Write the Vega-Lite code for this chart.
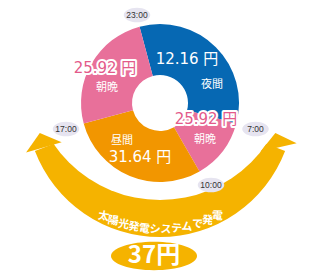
{
  "$schema": "https://vega.github.io/schema/vega-lite/v6.json",
  "autosize": {"type": "none"},
  "width": 320,
  "height": 206,
  "padding": {"left": 0, "top": 0, "right": 0, "bottom": 74},
  "background": "white",
  "config": {"view": {"stroke": null}},
  "datasets": {
    "segments": [
      {"period": "夜間", "start": -1, "end": 7},
      {"period": "朝晩", "start": 7, "end": 10},
      {"period": "昼間", "start": 10, "end": 17},
      {"period": "朝晩", "start": 17, "end": 23}
    ],
    "band": [
      {"start": 7.4, "end": 16.6}
    ],
    "inner": [
      {"x": 0, "y": -32}
    ],
    "arrows": [
      {"x": -117.5, "y": 39.5, "dir": -1},
      {"x": 117.5, "y": 39.5, "dir": 1}
    ],
    "times": [
      {"t": "23:00", "x": -23, "y": -88},
      {"t": "17:00", "x": -94, "y": 26},
      {"t": "7:00", "x": 95.5, "y": 26},
      {"t": "10:00", "x": 51, "y": 82}
    ],
    "labels": [
      {"text": "12.16 円", "x": 27, "y": -44, "kind": "price"},
      {"text": "31.64 円", "x": -20, "y": 54, "kind": "price"},
      {"text": "夜間", "x": 52, "y": -18, "kind": "name"},
      {"text": "朝晩", "x": -53, "y": -15, "kind": "name"},
      {"text": "朝晩", "x": 45, "y": 37, "kind": "name"},
      {"text": "昼間", "x": -38, "y": 38, "kind": "name"},
      {"text": "25.92 円", "x": -55, "y": -35, "kind": "pink"},
      {"text": "25.92 円", "x": 46, "y": 16, "kind": "pink"}
    ],
    "total": [{"text": "37円", "x": -6, "y": 153}],
    "arctext": [
      {"ch": "太", "pos": 13.76},
      {"ch": "陽", "pos": 13.44},
      {"ch": "光", "pos": 13.11},
      {"ch": "発", "pos": 12.79},
      {"ch": "電", "pos": 12.47},
      {"ch": "シ", "pos": 12.15},
      {"ch": "ス", "pos": 11.82},
      {"ch": "テ", "pos": 11.5},
      {"ch": "ム", "pos": 11.18},
      {"ch": "で", "pos": 10.86},
      {"ch": "発", "pos": 10.53},
      {"ch": "電", "pos": 10.21}
    ]
  },
  "layer": [
    {
      "data": {"name": "band"},
      "mark": {"type": "arc", "radius": 134, "radius2": 90, "color": "#f5b300"},
      "encoding": {
        "theta": {"field": "start", "type": "quantitative", "scale": {"domain": [0, 24], "range": [0, 6.283185307179586]}},
        "theta2": {"field": "end"}
      }
    },
    {
      "data": {"name": "inner"},
      "mark": {"type": "point", "shape": "circle", "size": 66564, "filled": true, "color": "white", "opacity": 1},
      "encoding": {
        "x": {"field": "x", "type": "quantitative", "scale": {"domain": [-160, 160], "nice": false, "zero": false}, "axis": null},
        "y": {"field": "y", "type": "quantitative", "scale": {"domain": [-103, 103], "reverse": true, "nice": false, "zero": false}, "axis": null}
      }
    },
    {
      "data": {"name": "arrows"},
      "mark": {"type": "point", "shape": "M-1,0.27L1,0.27L0,-0.53Z", "size": 1369, "filled": true, "color": "#f5b300", "opacity": 1},
      "encoding": {
        "x": {"field": "x", "type": "quantitative", "scale": {"domain": [-160, 160], "nice": false, "zero": false}, "axis": null},
        "y": {"field": "y", "type": "quantitative", "scale": {"domain": [-103, 103], "reverse": true, "nice": false, "zero": false}, "axis": null},
        "angle": {"field": "dir", "type": "quantitative", "scale": {"domain": [-1, 1], "range": [-16, 16]}}
      }
    },
    {
      "data": {"name": "arctext"},
      "mark": {"type": "text", "radius": 127, "fontSize": 11, "fontWeight": "bold", "font": "Noto Sans CJK JP", "fill": "white", "baseline": "middle", "align": "center"},
      "encoding": {
        "theta": {"field": "pos", "type": "quantitative", "stack": null, "scale": {"domain": [0, 24], "range": [0, 6.283185307179586]}},
        "text": {"field": "ch"},
        "angle": {"field": "pos", "type": "quantitative", "scale": {"domain": [6, 18], "range": [-90, 90]}}
      }
    },
    {
      "data": {"name": "segments"},
      "mark": {"type": "arc", "radius": 79, "radius2": 28},
      "encoding": {
        "theta": {"field": "start", "type": "quantitative", "scale": {"domain": [0, 24], "range": [0, 6.283185307179586]}},
        "theta2": {"field": "end"},
        "color": {"field": "period", "type": "nominal", "scale": {"domain": ["夜間", "朝晩", "昼間"], "range": ["#0668b3", "#e8709a", "#f29600"]}, "legend": null}
      }
    },
    {
      "data": {"name": "times"},
      "mark": {"type": "point", "shape": "M-1,0A1,0.55 0 1,1 1,0A1,0.55 0 1,1 -1,0Z", "size": 700, "filled": true, "color": "#e6e4f0", "opacity": 1},
      "encoding": {
        "x": {"field": "x", "type": "quantitative", "scale": {"domain": [-160, 160], "nice": false, "zero": false}, "axis": null},
        "y": {"field": "y", "type": "quantitative", "scale": {"domain": [-103, 103], "reverse": true, "nice": false, "zero": false}, "axis": null}
      }
    },
    {
      "data": {"name": "times"},
      "mark": {"type": "text", "fontSize": 8.5, "font": "Liberation Sans", "fill": "#333333", "baseline": "middle", "align": "center"},
      "encoding": {
        "x": {"field": "x", "type": "quantitative", "scale": {"domain": [-160, 160], "nice": false, "zero": false}, "axis": null},
        "y": {"field": "y", "type": "quantitative", "scale": {"domain": [-103, 103], "reverse": true, "nice": false, "zero": false}, "axis": null},
        "text": {"field": "t"}
      }
    },
    {
      "data": {"name": "labels"},
      "transform": [{"filter": "datum.kind === 'price'"}],
      "mark": {"type": "text", "fontSize": 15, "font": "DejaVu Sans, Noto Sans CJK JP", "fill": "white", "baseline": "middle", "align": "center"},
      "encoding": {
        "x": {"field": "x", "type": "quantitative", "scale": {"domain": [-160, 160], "nice": false, "zero": false}, "axis": null},
        "y": {"field": "y", "type": "quantitative", "scale": {"domain": [-103, 103], "reverse": true, "nice": false, "zero": false}, "axis": null},
        "text": {"field": "text"}
      }
    },
    {
      "data": {"name": "labels"},
      "transform": [{"filter": "datum.kind === 'name'"}],
      "mark": {"type": "text", "fontSize": 11, "font": "Noto Sans CJK JP", "fill": "white", "baseline": "middle", "align": "center"},
      "encoding": {
        "x": {"field": "x", "type": "quantitative", "scale": {"domain": [-160, 160], "nice": false, "zero": false}, "axis": null},
        "y": {"field": "y", "type": "quantitative", "scale": {"domain": [-103, 103], "reverse": true, "nice": false, "zero": false}, "axis": null},
        "text": {"field": "text"}
      }
    },
    {
      "data": {"name": "labels"},
      "transform": [{"filter": "datum.kind === 'pink'"}],
      "mark": {"type": "text", "fontSize": 15, "font": "DejaVu Sans, Noto Sans CJK JP", "fill": "white", "stroke": "white", "strokeWidth": 4, "strokeJoin": "round", "baseline": "middle", "align": "center"},
      "encoding": {
        "x": {"field": "x", "type": "quantitative", "scale": {"domain": [-160, 160], "nice": false, "zero": false}, "axis": null},
        "y": {"field": "y", "type": "quantitative", "scale": {"domain": [-103, 103], "reverse": true, "nice": false, "zero": false}, "axis": null},
        "text": {"field": "text"}
      }
    },
    {
      "data": {"name": "labels"},
      "transform": [{"filter": "datum.kind === 'pink'"}],
      "mark": {"type": "text", "fontSize": 15, "font": "DejaVu Sans, Noto Sans CJK JP", "fill": "#e35a8a", "baseline": "middle", "align": "center"},
      "encoding": {
        "x": {"field": "x", "type": "quantitative", "scale": {"domain": [-160, 160], "nice": false, "zero": false}, "axis": null},
        "y": {"field": "y", "type": "quantitative", "scale": {"domain": [-103, 103], "reverse": true, "nice": false, "zero": false}, "axis": null},
        "text": {"field": "text"}
      }
    },
    {
      "data": {"name": "total"},
      "mark": {"type": "point", "shape": "M-1,0A1,0.33 0 1,1 1,0A1,0.33 0 1,1 -1,0Z", "size": 7396, "filled": true, "color": "#f5b300", "opacity": 1},
      "encoding": {
        "x": {"field": "x", "type": "quantitative", "scale": {"domain": [-160, 160], "nice": false, "zero": false}, "axis": null},
        "y": {"field": "y", "type": "quantitative", "scale": {"domain": [-103, 103], "reverse": true, "nice": false, "zero": false}, "axis": null}
      }
    },
    {
      "data": {"name": "total"},
      "mark": {"type": "text", "fontSize": 24, "fontWeight": "bold", "font": "Noto Sans CJK JP", "fill": "white", "baseline": "middle", "align": "center"},
      "encoding": {
        "x": {"field": "x", "type": "quantitative", "scale": {"domain": [-160, 160], "nice": false, "zero": false}, "axis": null},
        "y": {"field": "y", "type": "quantitative", "scale": {"domain": [-103, 103], "reverse": true, "nice": false, "zero": false}, "axis": null},
        "text": {"field": "text"}
      }
    }
  ]
}
